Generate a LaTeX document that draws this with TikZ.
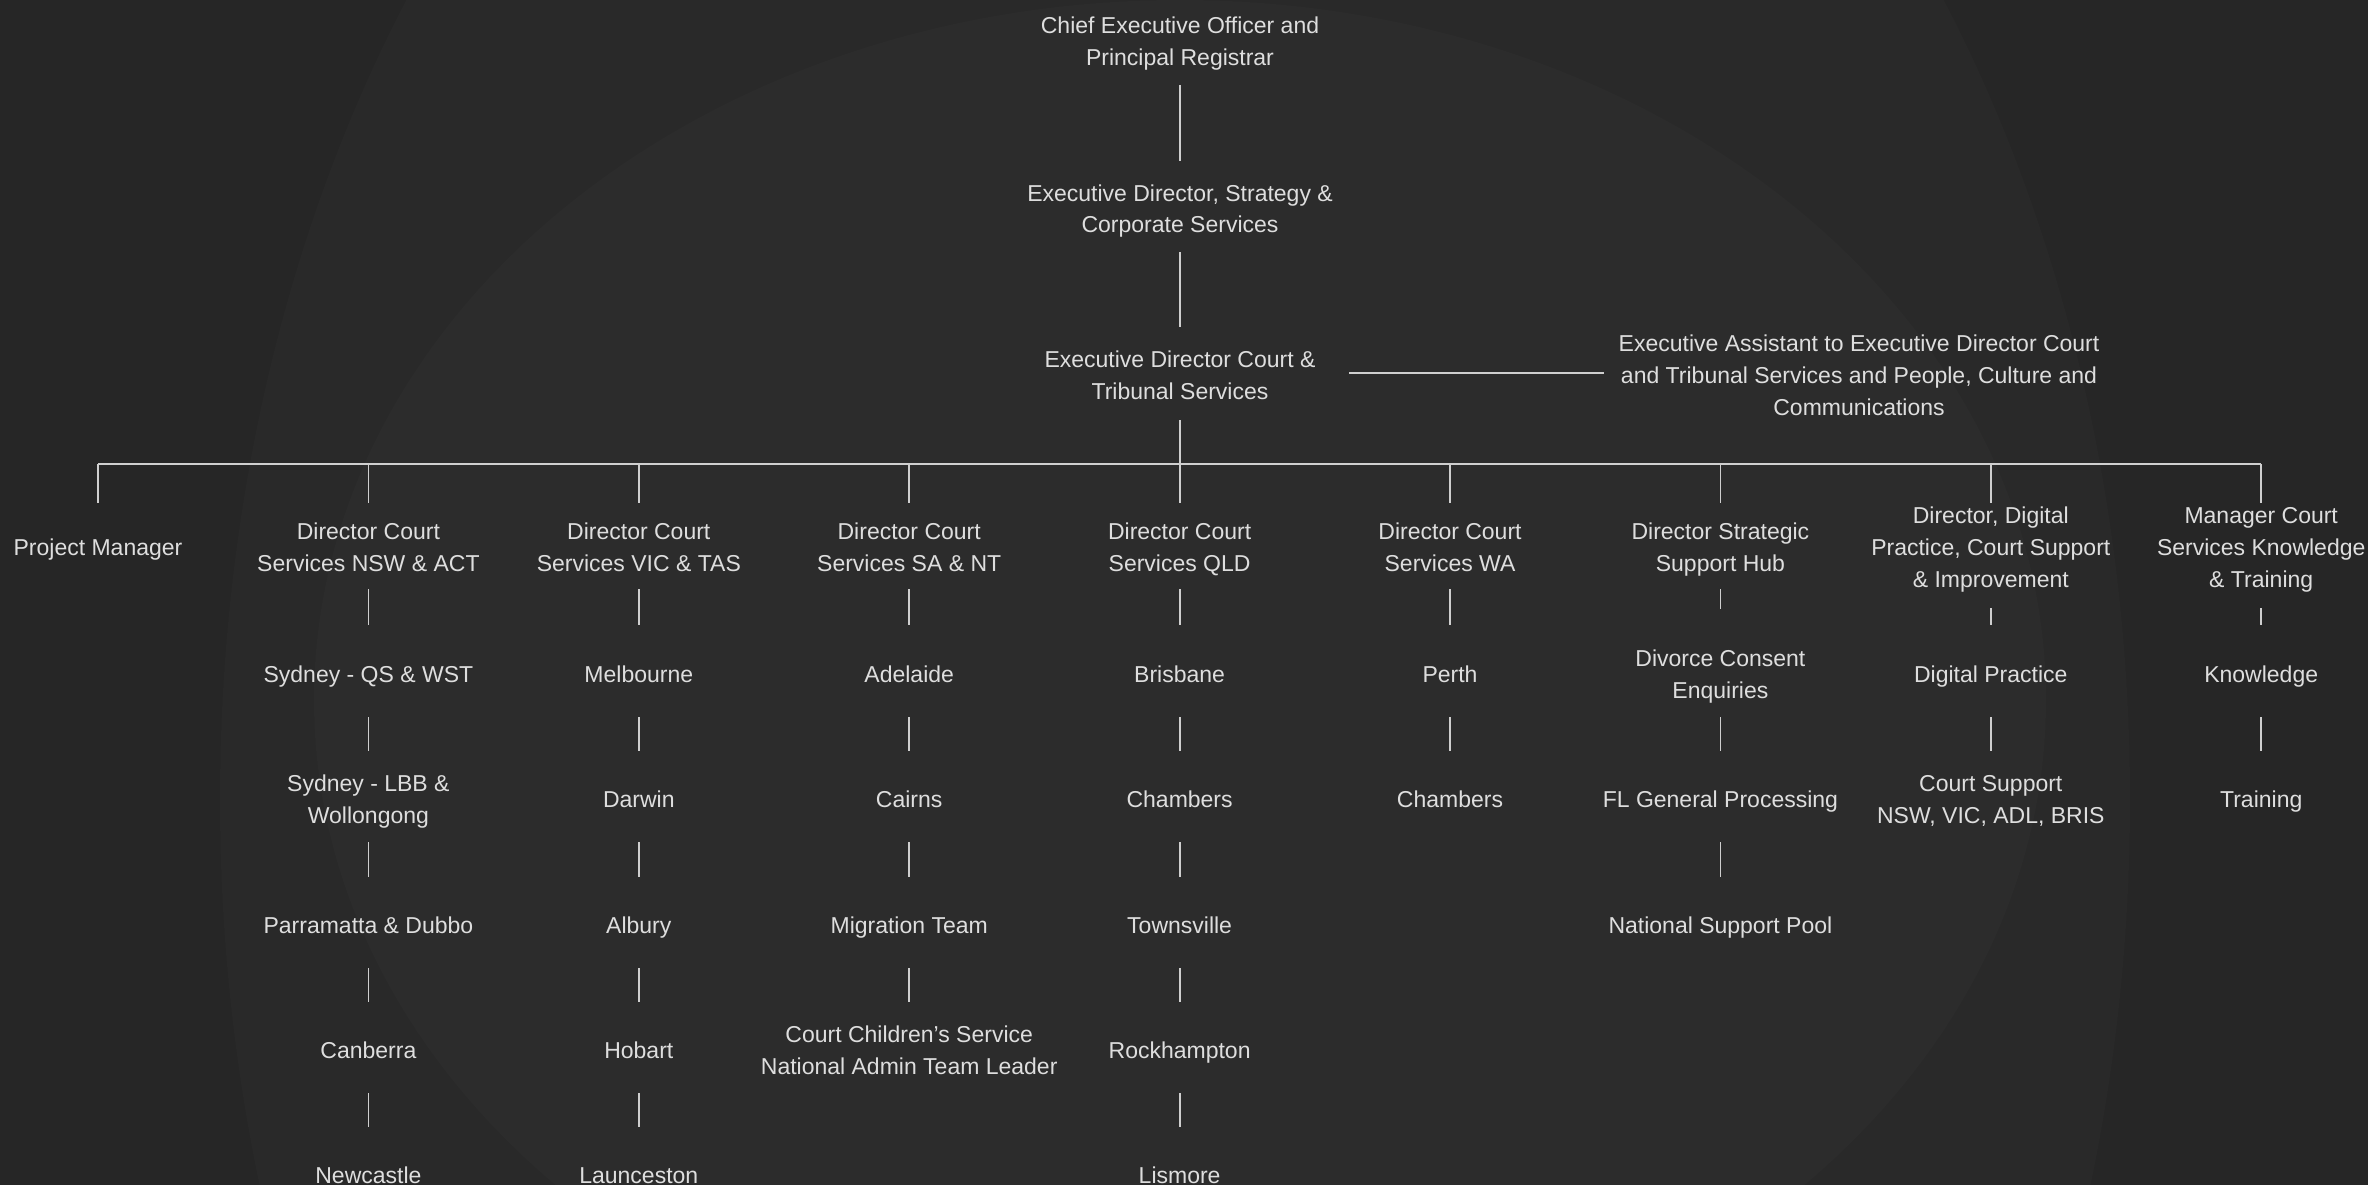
\documentclass[tikz,border=0pt]{standalone}
\usepackage{fontspec}
\setmainfont{Liberation Sans}
\definecolor{bgcol}{HTML}{262626}
\definecolor{ringout}{HTML}{292929}
\definecolor{ringin}{HTML}{2C2C2C}
\definecolor{txtcol}{HTML}{DEDEDE}
\definecolor{linecol}{HTML}{CFCFCF}
\newcommand{\rowstrut}{\rule[-6pt]{0pt}{32pt}}

\begin{document}
\begin{tikzpicture}[x=1pt,y=-1pt,
    txt/.style={text=txtcol, align=center, inner sep=0pt,
        font=\fontsize{23}{32}\selectfont,
        execute at begin node=\rowstrut, text depth=6pt},
    link/.style={draw=linecol, line width=1.8pt,
        shorten <=45pt, shorten >=46pt}]

            % background
            \useasboundingbox (0,0) rectangle (2368,1185);
            \fill[bgcol] (0,0) rectangle (2368,1185);
            \begin{scope}
                \clip (0,0) rectangle (2368,1185);
                \fill[ringout] (1175,800) ellipse [x radius=955, y radius=1348];
                \fill[ringin] (1180,700) ellipse [x radius=866, y radius=700];
            \end{scope}

            % executive
            \node[txt] (ceo) at (1180, 40) {\rowstrut Chief Executive Officer and\\Principal Registrar};
            \node[txt] (eds) at (1180, 207) {\rowstrut Executive Director, Strategy \&\\Corporate Services};
            \node[txt] (edc) at (1180, 373) {\rowstrut Executive Director Court \&\\Tribunal Services};
            \node[txt] (ea) at (1859, 373) {\rowstrut Executive Assistant to Executive Director Court\\and Tribunal Services and People, Culture and\\Communications};

            \draw[link] (ceo.center) -- (eds.center);
            \draw[link] (eds.center) -- (edc.center);
            \draw[link, shorten <=169pt, shorten >=255pt] (edc.center) -- (ea.center);

            % directors
            \node[txt] (pm) at (98, 545) {Project Manager};
            \node[txt] (nsw) at (368.4, 545) {\rowstrut Director Court\\Services NSW \& ACT};
            \node[txt] (vic) at (638.8, 545) {\rowstrut Director Court\\Services VIC \& TAS};
            \node[txt] (sa) at (909.2, 545) {\rowstrut Director Court\\Services SA \& NT};
            \node[txt] (qld) at (1179.6, 545) {\rowstrut Director Court\\Services QLD};
            \node[txt] (wa) at (1450, 545) {\rowstrut Director Court\\Services WA};
            \node[txt] (hub) at (1720.4, 545) {\rowstrut Director Strategic\\Support Hub};
            \node[txt] (dig) at (1990.8, 545) {\rowstrut Director, Digital\\Practice, Court Support\\\& Improvement};
            \node[txt] (kt) at (2261.2, 545) {\rowstrut Manager Court\\Services Knowledge\\\& Training};

            \coordinate (bar) at (1180, 464);
            \draw[link, shorten <=47pt, shorten >=0pt] (edc.center) -- (bar);
            \draw[link, shorten <=0pt, shorten >=0pt] (pm.center |- bar) -- (kt.center |- bar);
            \draw[link, shorten <=0pt, shorten >=42pt] (pm.center |- bar) -- (pm.center);
            \draw[link, shorten <=0pt, shorten >=42pt] (nsw.center |- bar) -- (nsw.center);
            \draw[link, shorten <=0pt, shorten >=42pt] (vic.center |- bar) -- (vic.center);
            \draw[link, shorten <=0pt, shorten >=42pt] (sa.center |- bar) -- (sa.center);
            \draw[link, shorten <=0pt, shorten >=42pt] (qld.center |- bar) -- (qld.center);
            \draw[link, shorten <=0pt, shorten >=42pt] (wa.center |- bar) -- (wa.center);
            \draw[link, shorten <=0pt, shorten >=42pt] (hub.center |- bar) -- (hub.center);
            \draw[link, shorten <=0pt, shorten >=42pt] (dig.center |- bar) -- (dig.center);
            \draw[link, shorten <=0pt, shorten >=42pt] (kt.center |- bar) -- (kt.center);

            % NSW & ACT
            \node[txt] (nsw1) at (368.4, 672) {Sydney - QS \& WST};
            \node[txt] (nsw2) at (368.4, 797) {\rowstrut Sydney - LBB \&\\Wollongong};
            \node[txt] (nsw3) at (368.4, 923) {Parramatta \& Dubbo};
            \node[txt] (nsw4) at (368.4, 1048) {Canberra};
            \node[txt] (nsw5) at (368.4, 1173) {Newcastle};

            \draw[link, shorten <=44pt, shorten >=47pt] (nsw.center) -- (nsw1.center);
            \draw[link] (nsw1.center) -- (nsw2.center);
            \draw[link] (nsw2.center) -- (nsw3.center);
            \draw[link] (nsw3.center) -- (nsw4.center);
            \draw[link] (nsw4.center) -- (nsw5.center);

            % VIC & TAS
            \node[txt] (vic1) at (638.8, 672) {Melbourne};
            \node[txt] (vic2) at (638.8, 797) {Darwin};
            \node[txt] (vic3) at (638.8, 923) {Albury};
            \node[txt] (vic4) at (638.8, 1048) {Hobart};
            \node[txt] (vic5) at (638.8, 1173) {Launceston};

            \draw[link, shorten <=44pt, shorten >=47pt] (vic.center) -- (vic1.center);
            \draw[link] (vic1.center) -- (vic2.center);
            \draw[link] (vic2.center) -- (vic3.center);
            \draw[link] (vic3.center) -- (vic4.center);
            \draw[link] (vic4.center) -- (vic5.center);

            % SA & NT
            \node[txt] (sa1) at (909.2, 672) {Adelaide};
            \node[txt] (sa2) at (909.2, 797) {Cairns};
            \node[txt] (sa3) at (909.2, 923) {Migration Team};
            \node[txt] (sa4) at (909.2, 1048) {\rowstrut Court Children’s Service\\National Admin Team Leader};

            \draw[link, shorten <=44pt, shorten >=47pt] (sa.center) -- (sa1.center);
            \draw[link] (sa1.center) -- (sa2.center);
            \draw[link] (sa2.center) -- (sa3.center);
            \draw[link] (sa3.center) -- (sa4.center);

            % QLD
            \node[txt] (qld1) at (1179.6, 672) {Brisbane};
            \node[txt] (qld2) at (1179.6, 797) {Chambers};
            \node[txt] (qld3) at (1179.6, 923) {Townsville};
            \node[txt] (qld4) at (1179.6, 1048) {Rockhampton};
            \node[txt] (qld5) at (1179.6, 1173) {Lismore};

            \draw[link, shorten <=44pt, shorten >=47pt] (qld.center) -- (qld1.center);
            \draw[link] (qld1.center) -- (qld2.center);
            \draw[link] (qld2.center) -- (qld3.center);
            \draw[link] (qld3.center) -- (qld4.center);
            \draw[link] (qld4.center) -- (qld5.center);

            % WA
            \node[txt] (wa1) at (1450, 672) {Perth};
            \node[txt] (wa2) at (1450, 797) {Chambers};

            \draw[link, shorten <=44pt, shorten >=47pt] (wa.center) -- (wa1.center);
            \draw[link] (wa1.center) -- (wa2.center);

            % Strategic Support Hub
            \node[txt] (hub1) at (1720.4, 672) {\rowstrut Divorce Consent\\Enquiries};
            \node[txt] (hub2) at (1720.4, 797) {FL General Processing};
            \node[txt] (hub3) at (1720.4, 923) {National Support Pool};

            \draw[link, shorten <=44pt, shorten >=63pt] (hub.center) -- (hub1.center);
            \draw[link] (hub1.center) -- (hub2.center);
            \draw[link] (hub2.center) -- (hub3.center);

            % Digital Practice
            \node[txt] (dig1) at (1990.8, 672) {Digital Practice};
            \node[txt] (dig2) at (1990.8, 797) {\rowstrut Court Support\\NSW, VIC, ADL, BRIS};

            \draw[link, shorten <=63pt, shorten >=47pt] (dig.center) -- (dig1.center);
            \draw[link] (dig1.center) -- (dig2.center);

            % Knowledge & Training
            \node[txt] (kt1) at (2261.2, 672) {Knowledge};
            \node[txt] (kt2) at (2261.2, 797) {Training};

            \draw[link, shorten <=63pt, shorten >=47pt] (kt.center) -- (kt1.center);
            \draw[link] (kt1.center) -- (kt2.center);
\end{tikzpicture}
\end{document}
